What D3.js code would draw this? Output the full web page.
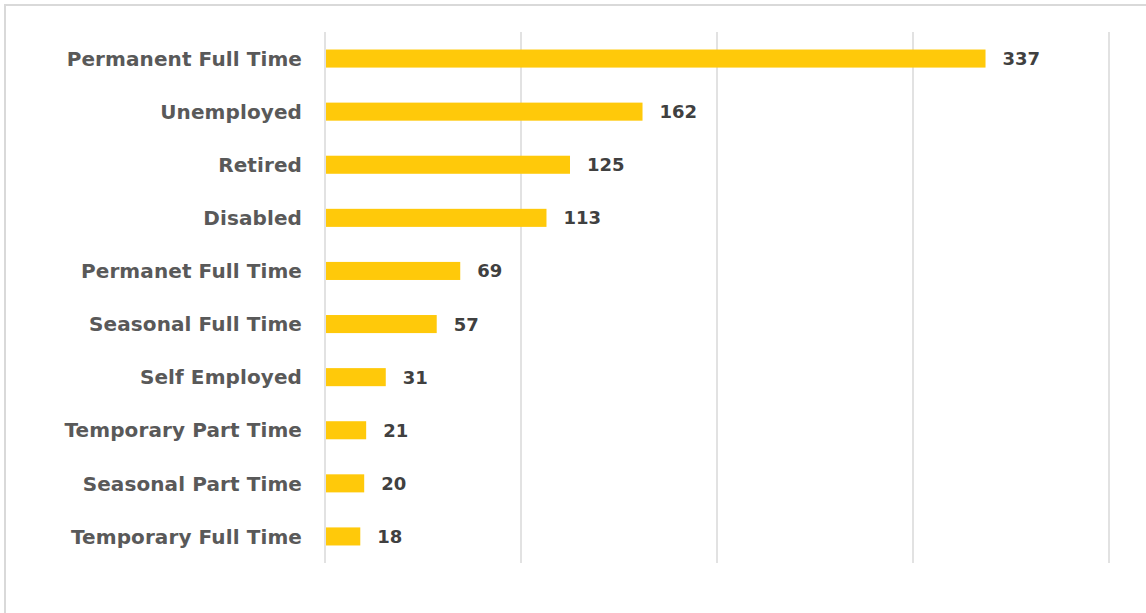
<!DOCTYPE html>
<html>
<head>
<meta charset="utf-8">
<script src="https://cdn.jsdelivr.net/npm/d3@7"></script>
<style>
  body { margin: 0; background: #fff; }
  svg { display: block; }
</style>
</head>
<body>
<svg id="chart" width="1146" height="613"></svg>
<script>
// data
var categories = ["Permanent Full Time", "Unemployed", "Retired", "Disabled",
    "Permanet Full Time", "Seasonal Full Time", "Self Employed",
    "Temporary Part Time", "Seasonal Part Time", "Temporary Full Time"];
var counts = [337, 162, 125, 113, 69, 57, 31, 21, 20, 18];
var gridTicks = [0, 100, 200, 300, 400];

var svg = d3.select("#chart");
var fontFam = "'DejaVu Sans', 'Open Sans', sans-serif";

//title, mostly clipped off the top of the page (as in the source)
svg.append("text")
    .attr("x", 8)
    .attr("y", -4)
    .style("font-family", "'Lato', sans-serif")
    .style("font-weight", "bold")
    .style("font-size", "24px")
    .style("fill", "#c0392b")
    .text("Figure 6: Employment Status of Respondents (n=953) by Survey");

//chart border
svg.append("rect")
    .attr("x", 5).attr("y", 5)
    .attr("width", 1160).attr("height", 640)
    .style("fill", "none")
    .style("stroke", "#d9d9d9")
    .style("stroke-width", 2);

var x = d3.scaleLinear().domain([0, 400]).range([325, 1109]);
var y = d3.scaleBand().domain(categories).range([32, 563]).paddingInner(0.66).paddingOuter(0.33);

//gridlines
svg.append("g")
    .selectAll("line")
    .data(gridTicks)
    .enter().append("line")
    .attr("x1", function(d) { return x(d); })
    .attr("x2", function(d) { return x(d); })
    .attr("y1", 32)
    .attr("y2", 563)
    .style("stroke", "#d9d9d9")
    .style("stroke-width", 1.5);

//bars
svg.append("g")
    .selectAll("rect")
    .data(counts)
    .enter().append("rect")
    .attr("x", x(0) + 1)
    .attr("y", function(d, i) { return y(categories[i]); })
    .attr("width", function(d) { return x(d) - x(0) - 1; })
    .attr("height", y.bandwidth())
    .style("fill", "#ffc90a");

//category labels
var yAxis = d3.axisLeft(y).tickSize(0).tickPadding(23);
var ax = svg.append("g")
    .attr("transform", "translate(" + x(0) + ",0)")
    .call(yAxis);
ax.select(".domain").remove();
ax.selectAll("text")
    .attr("dy", "0.36em")
    .style("font-family", fontFam)
    .style("font-weight", "bold")
    .style("font-size", "20px")
    .style("letter-spacing", "0.1px")
    .style("fill", "#595959");

//value labels
svg.append("g")
    .selectAll("text")
    .data(counts)
    .enter().append("text")
    .attr("x", function(d) { return x(d) + 17; })
    .attr("y", function(d, i) { return y(categories[i]) + y.bandwidth() / 2; })
    .attr("dy", "0.36em")
    .style("font-family", fontFam)
    .style("font-weight", "bold")
    .style("font-size", "18px")
    .style("fill", "#404040")
    .text(function(d) { return d; });
</script>
</body>
</html>
